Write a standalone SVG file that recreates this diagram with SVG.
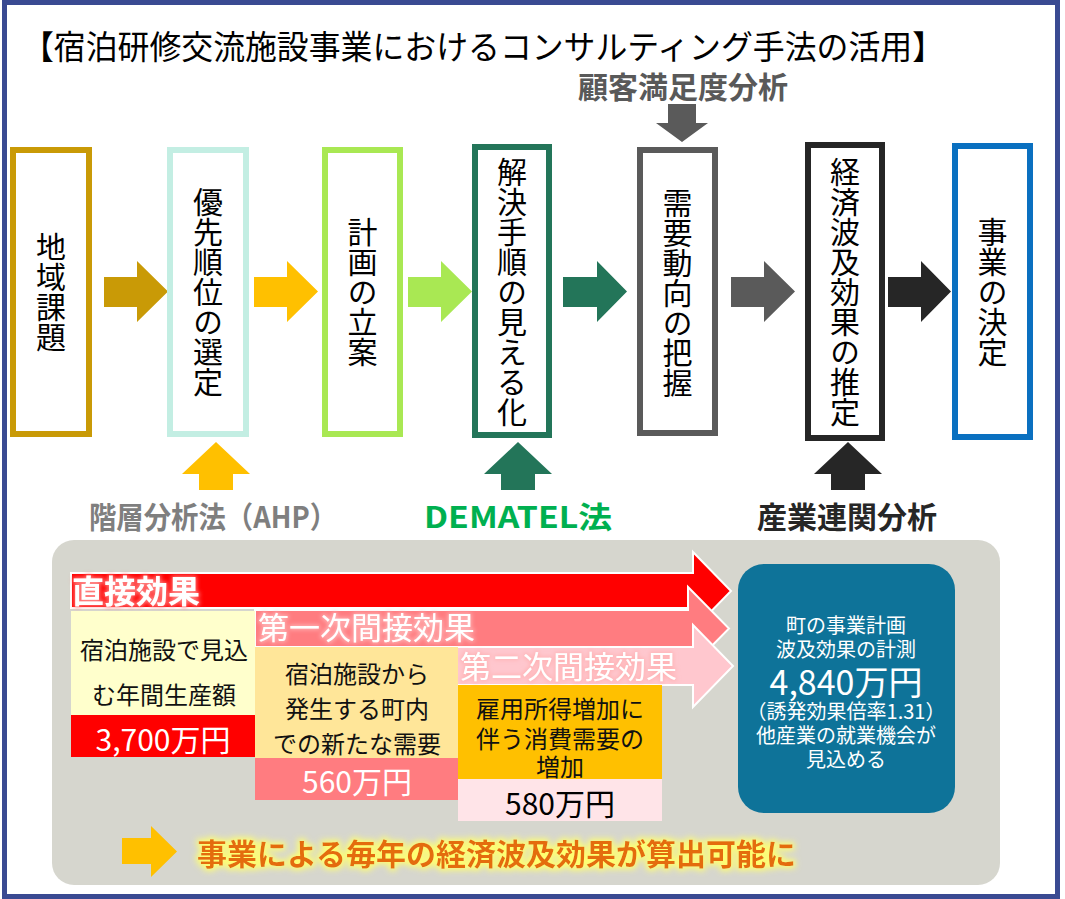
<svg xmlns="http://www.w3.org/2000/svg" width="1065" height="899" viewBox="0 0 1065 899">
<defs>
<style>
.t{font-family:"Noto Sans CJK JP","Noto Sans",sans-serif;}
.v{writing-mode:vertical-rl;font-size:30px;text-anchor:middle;fill:#000;}
.box{fill:#fff;stroke-width:6;}
.lbl{font-size:30px;font-weight:700;text-anchor:middle;dominant-baseline:central;}
.bt{font-size:24px;text-anchor:middle;dominant-baseline:central;fill:#111;}
.num{font-size:30px;text-anchor:middle;dominant-baseline:central;}
.wt{font-size:20px;text-anchor:middle;dominant-baseline:central;fill:#fff;}
.big{stroke:#fff;stroke-width:2;}
.al{fill:#fff;dominant-baseline:central;}
</style>
<filter id="gY" x="-10%" y="-60%" width="120%" height="220%">
<feMorphology in="SourceAlpha" operator="dilate" radius="2" result="d"/>
<feGaussianBlur in="d" stdDeviation="3" result="b"/>
<feFlood flood-color="#FFFF70"/>
<feComposite in2="b" operator="in" result="g"/>
<feMerge><feMergeNode in="g"/><feMergeNode in="SourceGraphic"/></feMerge>
</filter>
<filter id="gR" x="-10%" y="-40%" width="120%" height="180%">
<feMorphology in="SourceAlpha" operator="dilate" radius="1" result="d"/>
<feGaussianBlur in="d" stdDeviation="2" result="b"/>
<feFlood flood-color="#FF8080"/>
<feComposite in2="b" operator="in" result="g"/>
<feMerge><feMergeNode in="g"/><feMergeNode in="SourceGraphic"/></feMerge>
</filter>
<filter id="gP" x="-10%" y="-40%" width="120%" height="180%">
<feMorphology in="SourceAlpha" operator="dilate" radius="1" result="d"/>
<feGaussianBlur in="d" stdDeviation="2" result="b"/>
<feFlood flood-color="#FFB3B5"/>
<feComposite in2="b" operator="in" result="g"/>
<feMerge><feMergeNode in="g"/><feMergeNode in="SourceGraphic"/></feMerge>
</filter>
</defs>

<rect x="0" y="0" width="1065" height="899" fill="#fff"/>
<rect id="frame" x="4.5" y="2.5" width="1053" height="894" fill="#fff" stroke="#3A4A92" stroke-width="5"/>

<text id="title" class="t" x="22" y="45" font-size="33" dominant-baseline="central" fill="#000" textLength="922" lengthAdjust="spacingAndGlyphs">【宿泊研修交流施設事業におけるコンサルティング手法の活用】</text>

<g id="connectors">
<polygon points="104,277 137,277 137,261 168,291.5 137,322 137,307 104,307" fill="#C99A06"/>
<polygon points="254,277 287,277 287,261 318,291.5 287,322 287,307 254,307" fill="#FFC000"/>
<polygon points="408,277 441,277 441,261 472,291.5 441,322 441,307 408,307" fill="#A9E853"/>
<polygon points="563,277 597,277 597,261 627,291.5 597,322 597,307 563,307" fill="#237559"/>
<polygon points="731,277 764,277 764,261 795,291.5 764,322 764,307 731,307" fill="#5A5A5A"/>
<polygon points="888,277 921,277 921,261 951,291.5 921,322 921,307 888,307" fill="#262626"/>
<polygon points="668,104 696,104 696,123 708,123 682,142 656,123 668,123" fill="#5A5A5A"/>
<polygon points="216,442 250,474 233,474 233,490 199,490 199,474 182,474" fill="#FFC000"/>
<polygon points="518,442 552,474 535,474 535,490 501,490 501,474 484,474" fill="#237559"/>
<polygon points="848,442 882,474 865,474 865,490 831,490 831,474 814,474" fill="#262626"/>
</g>

<g id="n1"><rect class="box" x="13" y="150" width="76" height="284" stroke="#C99A06"/><text class="t v" x="51" y="292">地域課題</text></g>
<g id="n2"><rect class="box" x="170" y="150" width="76" height="284" stroke="#C3EEE3"/><text class="t v" x="208" y="292">優先順位の選定</text></g>
<g id="n3"><rect class="box" x="325" y="150" width="75" height="284" stroke="#A9E853"/><text class="t v" x="362.5" y="292">計画の立案</text></g>
<g id="n4"><rect class="box" x="475" y="147" width="74" height="288" stroke="#237559"/><text class="t v" x="512" y="292">解決手順の見える化</text></g>
<g id="n5"><rect class="box" x="640" y="150" width="75" height="283" stroke="#5A5A5A"/><text class="t v" x="677.5" y="293">需要動向の把握</text></g>
<g id="n6"><rect class="box" x="808" y="145" width="74" height="293" stroke="#262626"/><text class="t v" x="845" y="292">経済波及効果の推定</text></g>
<g id="n7"><rect class="box" x="955" y="146" width="75" height="291" stroke="#0A70C0"/><text class="t v" x="992.5" y="292">事業の決定</text></g>

<g id="labels">
<text class="t lbl" x="683" y="85" fill="#595959">顧客満足度分析</text>
<text class="t lbl" x="213" y="515" fill="#7F7F7F" textLength="248" lengthAdjust="spacingAndGlyphs">階層分析法（AHP）</text>
<text class="t lbl" x="518" y="515" fill="#00B050" textLength="188" lengthAdjust="spacingAndGlyphs">DEMATEL法</text>
<text class="t lbl" x="847" y="515" fill="#262626">産業連関分析</text>
</g>

<g id="panel">
<rect x="52" y="540" width="948" height="345" rx="22" fill="#D6D6CE"/>
</g>

<g id="effects">
<path class="big" d="M71,573 H693 V552 L731,591 L693,630 V608 H71 Z" fill="#FF0000"/>
<path class="big" d="M255,610 H688 V587 L729,628.5 L688,670 V647 H255 Z" fill="#FF7C80"/>
<path class="big" d="M457,647 H693 V625 L733,666 L693,707 V685 H457 Z" fill="#FFC7CE"/>
<text class="t al" x="72" y="589" font-size="32" font-weight="700" filter="url(#gR)">直接効果</text>
<text class="t al" x="258" y="625" font-size="31" filter="url(#gP)">第一次間接効果</text>
<text class="t al" x="460" y="664" font-size="31" filter="url(#gP)">第二次間接効果</text>
</g>

<g id="direct">
<rect x="71" y="611" width="184" height="104" fill="#FFFFCC"/>
<text class="t bt" x="164" y="648">宿泊施設で見込</text>
<text class="t bt" x="164" y="693">む年間生産額</text>
<rect x="71" y="715" width="184" height="42" fill="#FF0000"/>
<text class="t num" x="163" y="738" fill="#fff">3,700万円</text>
</g>

<g id="first">
<rect x="255" y="647" width="203" height="111" fill="#FFE699"/>
<text class="t bt" x="357" y="672">宿泊施設から</text>
<text class="t bt" x="357" y="707">発生する町内</text>
<text class="t bt" x="357" y="742">での新たな需要</text>
<rect x="255" y="758" width="203" height="42" fill="#FF7C80"/>
<text class="t num" x="357" y="780" fill="#fff">560万円</text>
</g>

<g id="second">
<rect x="458" y="685" width="204" height="94" fill="#FFC000"/>
<text class="t bt" x="560" y="707">雇用所得増加に</text>
<text class="t bt" x="560" y="737">伴う消費需要の</text>
<text class="t bt" x="560" y="765">増加</text>
<rect x="458" y="779" width="204" height="42" fill="#FFE4E8"/>
<text class="t num" x="560" y="802" fill="#000">580万円</text>
</g>

<g id="result">
<rect x="738" y="564" width="217" height="249" rx="26" fill="#0E7399"/>
<text class="t wt" x="846" y="624">町の事業計画</text>
<text class="t wt" x="846" y="648">波及効果の計測</text>
<text class="t wt" x="846" y="680" style="font-size:34px">4,840万円</text>
<text class="t wt" x="846" y="710">（誘発効果倍率1.31）</text>
<text class="t wt" x="846" y="734">他産業の就業機会が</text>
<text class="t wt" x="846" y="758">見込める</text>
</g>

<g id="conclusion">
<polygon points="122,838 151,838 151,826 177,851.5 151,877 151,864 122,864" fill="#FFC000"/>
<text class="t" x="197" y="852" font-size="30" font-weight="700" fill="#E46C0A" dominant-baseline="central" filter="url(#gY)">事業による毎年の経済波及効果が算出可能に</text>
</g>
</svg>
